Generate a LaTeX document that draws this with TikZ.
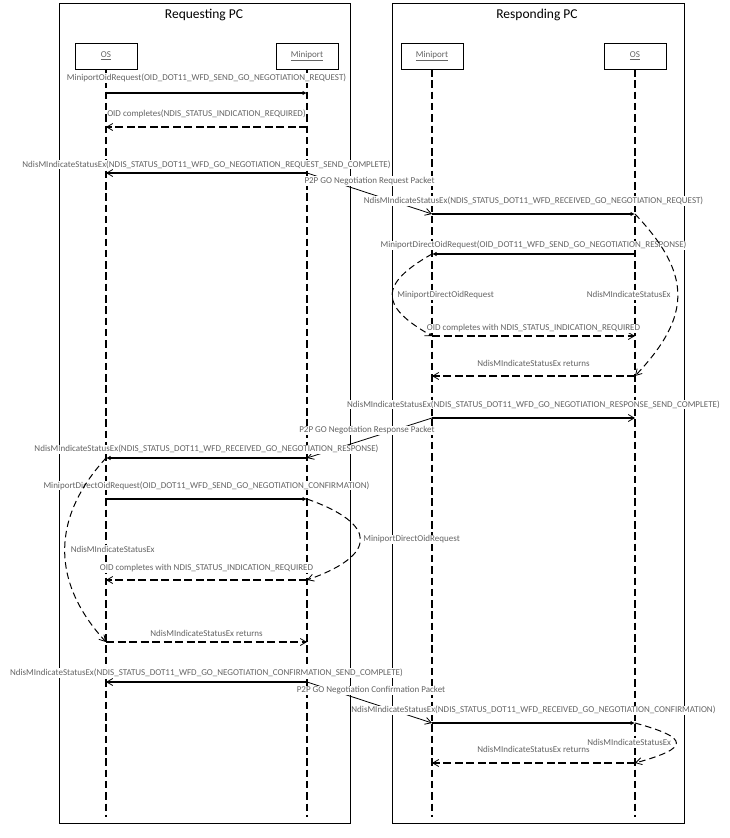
\documentclass[tikz,border=0pt]{standalone}
\usepackage{fontspec}
\setmainfont{Carlito}
\usetikzlibrary{arrows.meta, positioning}
\definecolor{msggray}{RGB}{100,100,100}

\begin{document}
\begin{tikzpicture}[
  x=1pt, y=-1pt,
  frame/.style={rectangle, draw, line width=0.9pt, inner sep=0pt,
                anchor=north west, minimum height=820pt},
  title/.style={font=\fontsize{13.5}{16}\selectfont},
  head/.style={rectangle, draw, line width=0.9pt, fill=white,
               minimum width=62pt, minimum height=26pt,
               font=\fontsize{9}{11}\selectfont, text=msggray},
  lifeline/.style={draw, line width=2.3pt, dash pattern=on 7.5pt off 3.8pt},
  msg/.style={font=\fontsize{9}{11}\selectfont, text=msggray, fill=white,
              inner sep=0.6pt, text height=6.4pt, text depth=1.8pt},
  call/.style={-{Latex[length=4.5pt,width=4.5pt]}, line width=1.1pt},
  sig/.style={-{Straight Barb[length=6pt,width=7pt,line width=0.8pt]},
              line width=1.1pt},
  ret/.style={sig, line width=1.4pt, dash pattern=on 8pt off 3.5pt},
  selfcall/.style={sig, line width=1pt, dash pattern=on 6.5pt off 4pt},
  packet/.style={sig, line width=0.8pt}
]
\useasboundingbox (0,0) rectangle (730,838);

% ----- frames -----
\node[frame, minimum width=291.5pt] (reqpc) at (58.5,3) {};
\node[frame, minimum width=292.5pt] (respc) at (391.5,3) {};
\node[title] (reqtitle) at (204,15) {Requesting PC};
\node[title] (restitle) at (537,15) {Responding PC};

% ----- lifelines -----
\node[head] (reqOS) at (106,56) {\underline{OS}};
\node[head] (reqMP) at (307,56) {\underline{Miniport}};
\node[head] (resMP) at (432,56) {\underline{Miniport}};
\node[head] (resOS) at (635,56) {\underline{OS}};

\coordinate (reqOStop) at (reqOS |- 0,69);
\coordinate (reqMPtop) at (reqMP |- 0,69);
\coordinate (resMPtop) at (resMP |- 0,69);
\coordinate (resOStop) at (resOS |- 0,69);
\coordinate (reqOSend) at (reqOS |- 0,817);
\coordinate (reqMPend) at (reqMP |- 0,817);
\coordinate (resMPend) at (resMP |- 0,817);
\coordinate (resOSend) at (resOS |- 0,817);

\draw[lifeline] (reqOStop) -- (reqOSend);
\draw[lifeline] (reqMPtop) -- (reqMPend);
\draw[lifeline] (resMPtop) -- (resMPend);
\draw[lifeline] (resOStop) -- (resOSend);

% ----- message rows -----
\coordinate (rqOS1) at (reqOS |- 0,93);   \coordinate (rqMP1) at (reqMP |- 0,93);
\coordinate (rqOS2) at (reqOS |- 0,127);  \coordinate (rqMP2) at (reqMP |- 0,127);
\coordinate (rqOS3) at (reqOS |- 0,173);  \coordinate (rqMP3) at (reqMP |- 0,173);
\coordinate (rsMP4) at (resMP |- 0,214);  \coordinate (rsOS4) at (resOS |- 0,214);
\coordinate (rsMP5) at (resMP |- 0,254);  \coordinate (rsOS5) at (resOS |- 0,254);
\coordinate (rsMP6) at (resMP |- 0,336);  \coordinate (rsOS6) at (resOS |- 0,336);
\coordinate (rsMP7) at (resMP |- 0,376);  \coordinate (rsOS7) at (resOS |- 0,376);
\coordinate (rsMP8) at (resMP |- 0,418);  \coordinate (rsOS8) at (resOS |- 0,418);
\coordinate (rqOS9) at (reqOS |- 0,458);  \coordinate (rqMP9) at (reqMP |- 0,458);
\coordinate (rqOS10) at (reqOS |- 0,499); \coordinate (rqMP10) at (reqMP |- 0,499);
\coordinate (rqOS11) at (reqOS |- 0,580); \coordinate (rqMP11) at (reqMP |- 0,580);
\coordinate (rqOS12) at (reqOS |- 0,642); \coordinate (rqMP12) at (reqMP |- 0,642);
\coordinate (rqOS13) at (reqOS |- 0,682); \coordinate (rqMP13) at (reqMP |- 0,682);
\coordinate (rsMP14) at (resMP |- 0,723); \coordinate (rsOS14) at (resOS |- 0,723);
\coordinate (rsMP15) at (resMP |- 0,763); \coordinate (rsOS15) at (resOS |- 0,763);

% ----- GO negotiation request -----
\draw[call] (rqOS1) -- node[msg, above=9.7pt] (l1)
  {MiniportOidRequest(OID\_DOT11\_WFD\_SEND\_GO\_NEGOTIATION\_REQUEST)} (rqMP1);
\draw[ret] (rqMP2) -- node[msg, above=7.5pt] (l2)
  {OID completes(NDIS\_STATUS\_INDICATION\_REQUIRED)} (rqOS2);
\draw[sig] (rqMP3) -- node[msg, above=3pt] (l3)
  {NdisMIndicateStatusEx(NDIS\_STATUS\_DOT11\_WFD\_GO\_NEGOTIATION\_REQUEST\_SEND\_COMPLETE)} (rqOS3);
\draw[packet] (rqMP3) -- node[msg, pos=0.5, above=7.4pt] (p1)
  {P2P GO Negotiation Request Packet} (rsMP4);
\draw[call] (rsMP4) -- node[msg, above=7.7pt] (l4)
  {NdisMIndicateStatusEx(NDIS\_STATUS\_DOT11\_WFD\_RECEIVED\_GO\_NEGOTIATION\_REQUEST)} (rsOS4);

% ----- GO negotiation response -----
\draw[call] (rsOS5) -- node[msg, above=3.3pt] (l5)
  {MiniportDirectOidRequest(OID\_DOT11\_WFD\_SEND\_GO\_NEGOTIATION\_RESPONSE)} (rsMP5);
\draw[selfcall] (rsOS4) .. controls +(57,60) and +(57,-60) .. node[msg, pos=0.5, left=6pt] (c1)
  {NdisMIndicateStatusEx} (rsOS7);
\draw[selfcall] (rsMP5) .. controls +(-53,30) and +(-53,-30) .. node[msg, pos=0.5, right=4pt] (c2)
  {MiniportDirectOidRequest} (rsMP6);
\draw[ret] (rsMP6) -- node[msg, above=2.4pt] (l6)
  {OID completes with NDIS\_STATUS\_INDICATION\_REQUIRED} (rsOS6);
\draw[ret] (rsOS7) -- node[msg, above=6.4pt] (l7)
  {NdisMIndicateStatusEx returns} (rsMP7);
\draw[sig] (rsMP8) -- node[msg, above=8pt] (l8)
  {NdisMIndicateStatusEx(NDIS\_STATUS\_DOT11\_WFD\_GO\_NEGOTIATION\_RESPONSE\_SEND\_COMPLETE)} (rsOS8);
\draw[packet] (rsMP8) -- node[msg, pos=0.52, above=3.5pt] (p2)
  {P2P GO Negotiation Response Packet} (rqMP9);
\draw[call] (rqMP9) -- node[msg, above=3.1pt] (l9)
  {NdisMIndicateStatusEx(NDIS\_STATUS\_DOT11\_WFD\_RECEIVED\_GO\_NEGOTIATION\_RESPONSE)} (rqOS9);

% ----- GO negotiation confirmation -----
\draw[call] (rqOS10) -- node[msg, above=8pt] (l10)
  {MiniportDirectOidRequest(OID\_DOT11\_WFD\_SEND\_GO\_NEGOTIATION\_CONFIRMATION)} (rqMP10);
\draw[selfcall] (rqOS9) .. controls +(-55,60) and +(-55,-60) .. node[msg, pos=0.5, right=5pt] (c3)
  {NdisMIndicateStatusEx} (rqOS12);
\draw[selfcall] (rqMP10) .. controls +(71,25) and +(71,-25) .. node[msg, pos=0.5, right=2pt] (c4)
  {MiniportDirectOidRequest} (rqMP11);
\draw[ret] (rqMP11) -- node[msg, above=6.4pt] (l11)
  {OID completes with NDIS\_STATUS\_INDICATION\_REQUIRED} (rqOS11);
\draw[ret] (rqOS12) -- node[msg, above=2.4pt] (l12)
  {NdisMIndicateStatusEx returns} (rqMP12);
\draw[sig] (rqMP13) -- node[msg, above=3.7pt] (l13)
  {NdisMIndicateStatusEx(NDIS\_STATUS\_DOT11\_WFD\_GO\_NEGOTIATION\_CONFIRMATION\_SEND\_COMPLETE)} (rqOS13);
\draw[packet] (rqMP13) -- node[msg, pos=0.512, above=7.7pt] (p3)
  {P2P GO Negotiation Confirmation Packet} (rsMP14);
\draw[call] (rsMP14) -- node[msg, above=7.4pt] (l14)
  {NdisMIndicateStatusEx(NDIS\_STATUS\_DOT11\_WFD\_RECEIVED\_GO\_NEGOTIATION\_CONFIRMATION)} (rsOS14);
\draw[ret] (rsOS15) -- node[msg, above=7.3pt] (l15)
  {NdisMIndicateStatusEx returns} (rsMP15);
\draw[selfcall] (rsOS14) .. controls +(55,15) and +(55,-15) .. node[msg, pos=0.5, left=4pt] (c5)
  {NdisMIndicateStatusEx} (rsOS15);

\end{tikzpicture}
\end{document}
